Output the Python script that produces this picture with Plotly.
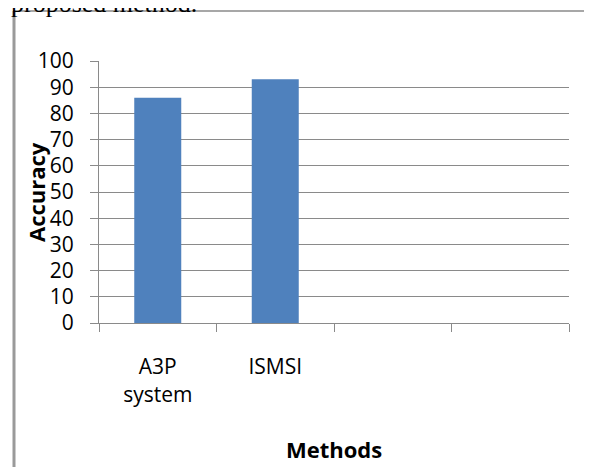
import plotly.graph_objects as go

categories = ["A3P<br>system", "ISMSI", " ", "  "]
accuracy = [86, 93, None, None]
y_ticks = [0, 10, 20, 30, 40, 50, 60, 70, 80, 90, 100]

# the page body adds an 8px margin; work in reference pixel coords and shift
OFF = 8
W, H = 592 - OFF, 467 - OFF
L, R, T, B = 99 - OFF, 23, 61 - OFF, 144
pw, ph = W - L - R, H - T - B

def px_x(px):
    return (px - OFF - L) / pw

def px_y(py):
    return 1 - (py - OFF - T) / ph

grid = "#8a8a8a"
font = "Open Sans"

fig = go.Figure()
fig.add_trace(go.Bar(x=categories, y=accuracy, width=0.4,
                     marker=dict(color="#4F81BD", line=dict(width=0))))

fig.update_layout(
    width=W, height=H,
    margin=dict(l=L, r=R, t=T, b=B),
    paper_bgcolor="white", plot_bgcolor="white",
    showlegend=False,
    font=dict(family=font, size=21, color="black"),
    bargap=0.6,
)
fig.update_xaxes(
    type="category", categoryorder="array", categoryarray=categories,
    range=[-0.5, 3.5], tickson="boundaries",
    showline=True, linecolor=grid, linewidth=1,
    ticks="outside", ticklen=8, tickcolor=grid, tickwidth=1,
    showgrid=False, zeroline=False,
    tickfont=dict(family=font, size=21), ticklabelstandoff=25,
)
fig.update_yaxes(
    range=[0, 100], tickvals=y_ticks, ticktext=[str(v) for v in y_ticks],
    showline=True, linecolor=grid, linewidth=1,
    ticks="outside", ticklen=8, tickcolor=grid, tickwidth=1,
    showgrid=True, gridcolor=grid, gridwidth=1, zeroline=False,
    tickfont=dict(family=font, size=21), ticklabelstandoff=12,
)

# axis titles as annotations
fig.add_annotation(text="<b>Accuracy</b>", textangle=-90,
                   xref="paper", yref="paper", x=px_x(36), y=0.5,
                   xanchor="center", yanchor="middle", showarrow=False,
                   font=dict(family=font, size=22, color="black"))
fig.add_annotation(text="<b>Methods</b>",
                   xref="paper", yref="paper", x=0.5, y=px_y(449),
                   xanchor="center", yanchor="middle", showarrow=False,
                   font=dict(family=font, size=22, color="black"))
# caption fragment above frame
fig.add_annotation(text="proposed method.",
                   xref="paper", yref="paper", x=px_x(9), y=px_y(4),
                   xanchor="left", yanchor="middle", showarrow=False,
                   font=dict(family="Liberation Serif", size=26, color="black"))

# frame lines
fig.add_shape(type="line", xref="paper", yref="paper",
              x0=px_x(14), x1=px_x(14), y0=px_y(11), y1=px_y(470),
              line=dict(color="#9a9a9a", width=3))
fig.add_shape(type="line", xref="paper", yref="paper",
              x0=px_x(13), x1=px_x(600), y0=px_y(11), y1=px_y(11),
              line=dict(color="#8a8a8a", width=1.5))

fig.write_html("out.html")
